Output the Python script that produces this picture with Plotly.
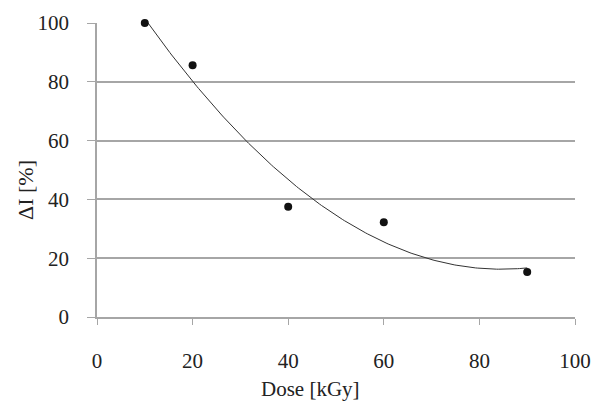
import numpy as np
import plotly.graph_objects as go

dose = [10, 20, 40, 60, 90]
delta_i = [100, 85.6, 37.5, 32.2, 15.3]
x_ticks = [0, 20, 40, 60, 80, 100]
y_ticks = [0, 20, 40, 60, 80, 100]

# polynomial (order 2) trendline, as in the original spreadsheet chart
coef = np.polyfit(dose, delta_i, 2)
xf = np.linspace(min(dose), max(dose), 200)
yf = np.polyval(coef, xf)

FONT = "Liberation Serif"
W, H = 594, 404
L, R, T, B = 97, 19, 23, 87
fig = go.Figure()
fig.add_trace(go.Scatter(x=xf, y=yf, mode="lines", cliponaxis=False,
                         line=dict(color="#333333", width=1), hoverinfo="skip"))
fig.add_trace(go.Scatter(x=dose, y=delta_i, mode="markers", cliponaxis=False,
                         marker=dict(color="#111111", size=8)))

pw, ph = W - L - R, H - T - B
fig.update_layout(
    width=W, height=H,
    margin=dict(l=L, r=R, t=T, b=B),
    paper_bgcolor="white", plot_bgcolor="white",
    showlegend=False,
    font=dict(family=FONT, size=21, color="#222222"),
    xaxis=dict(range=[0, 100], tickvals=x_ticks, showgrid=False,
               showline=True, linecolor="#a6a6a6", linewidth=1.5,
               ticks="outside", ticklen=6, tickcolor="#a6a6a6",
               ticklabelstandoff=18, zeroline=False, automargin=False),
    yaxis=dict(range=[0, 100], tickvals=y_ticks, showgrid=True,
               gridcolor="#a6a6a6", gridwidth=1.5,
               showline=True, linecolor="#a6a6a6", linewidth=1.5,
               ticks="outside", ticklen=8, tickcolor="#a6a6a6",
               ticklabelstandoff=14, zeroline=False, automargin=False),
    annotations=[
        dict(text="Dose [kGy]", xref="paper", yref="paper",
             x=(310 - L) / pw, y=-(389 - (H - B)) / ph,
             xanchor="center", yanchor="middle", showarrow=False,
             font=dict(family=FONT, size=21)),
        dict(text="ΔI [%]", xref="paper", yref="paper",
             x=-(L - 25) / pw, y=((H - B) - 190) / ph,
             xanchor="center", yanchor="middle", showarrow=False, textangle=-90,
             font=dict(family=FONT, size=22)),
    ],
)

fig.write_html("out.html")
